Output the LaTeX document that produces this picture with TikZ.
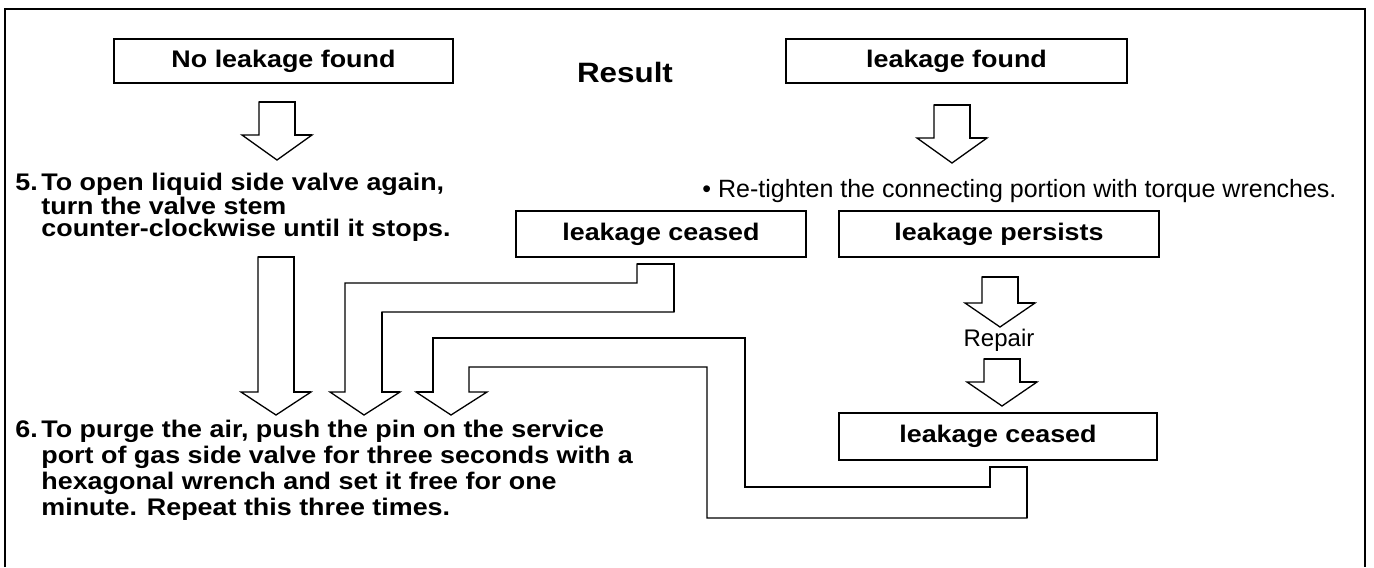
\documentclass[tikz,border=0pt]{standalone}
\usepackage{fontspec}
\setmainfont{Liberation Sans}
\newfontfamily\widefont{Liberation Sans}[FakeStretch=1.12]
\usepackage{xcolor}
\definecolor{inkblack}{RGB}{0,0,0}
\newcommand{\stepno}[1]{\makebox[13pt][l]{#1}}

\begin{document}
\begin{tikzpicture}[x=0.5pt,y=-0.5pt,
    resultbox/.style={draw=inkblack,line width=1pt,inner sep=0pt,minimum height=22pt,
      font=\widefont\bfseries\fontsize{12}{14}\selectfont},
    blockarrow/.style={draw=inkblack,fill=white,line width=0.65pt,line join=miter},
    heavyedge/.style={draw=inkblack,line width=1.4pt,line join=miter}]
        \useasboundingbox (0,0) rectangle (1374,567);
        \draw[line width=0.7pt] (5,567) -- (5,9) -- (1365,9) -- (1365,567);

        \node[resultbox,minimum width=169.5pt] (nofound) at (283.5,61) {No leakage found};
        \node[resultbox,minimum width=170.5pt] (found) at (956.5,61) {leakage found};
        \node[font=\widefont\bfseries\fontsize{14}{16}\selectfont] (result) at (625,72) {Result};
        \node[resultbox,minimum width=145pt,minimum height=23pt] (ceasedleft) at (661,234) {leakage ceased};
        \node[resultbox,minimum width=160pt,minimum height=23pt] (persists) at (999,234) {leakage persists};
        \node[resultbox,minimum width=159pt,minimum height=23.5pt] (ceasedright) at (998,436.5) {leakage ceased};

        \node[anchor=base west,inner sep=0pt,font=\fontsize{12.5}{15}\selectfont]
          (retighten) at (702,197) {• Re-tighten the connecting portion with torque wrenches.};
        \node[inner sep=0pt,font=\fontsize{12}{14}\selectfont] (repair) at (999,340) {Repair};

        \node[anchor=north west,inner sep=0pt,align=left,
              font=\widefont\bfseries\fontsize{12}{11}\selectfont]
          (stepfive) at (15,172.5)
          {\stepno{5.}To open liquid side valve again,\\
           \stepno{}turn the valve stem\\
           \stepno{}counter-clockwise until it stops.};
        \node[anchor=north west,inner sep=0pt,align=left,
              font=\widefont\bfseries\fontsize{12}{13}\selectfont]
          (stepsix) at (15,419.5)
          {\stepno{6.}To purge the air, push the pin on the service\\
           \stepno{}port of gas side valve for three seconds with a\\
           \stepno{}hexagonal wrench and set it free for one\\
           \stepno{}minute. Repeat this three times.};

        \foreach \cx/\ytop/\ysh/\ytip in {277/102/135/160,952/105/138/163,1000/277/303/327,
                                          1002/359/382/406,276/257/392/415}{
          \draw[blockarrow] (\cx-18,\ytop) -- (\cx-18,\ysh) -- (\cx-35,\ysh) -- (\cx,\ytip)
                -- (\cx+35,\ysh) -- (\cx+18,\ysh) -- (\cx+18,\ytop) -- cycle;
          \draw[heavyedge] (\cx-18,\ytop) -- (\cx+18,\ytop) -- (\cx+18,\ysh) -- (\cx+35,\ysh);
        }

        \draw[blockarrow] (345,392) -- (345,283) -- (637,283) -- (637,264) -- (674,264)
              -- (674,312) -- (382,312) -- (382,392) -- (400,392) -- (364,415) -- (330,392) -- cycle;
        \draw[heavyedge] (637,264) -- (674,264) -- (674,312);
        \draw[heavyedge] (382,312) -- (382,392) -- (400,392);

        \draw[blockarrow] (433,392) -- (433,338) -- (745,338) -- (745,487) -- (990,487)
              -- (990,467) -- (1027,467) -- (1027,518) -- (707,518) -- (707,367) -- (469,367)
              -- (469,392) -- (487,392) -- (451,415) -- (416,392) -- cycle;
        \draw[heavyedge] (416,392) -- (433,392) -- (433,338) -- (745,338) -- (745,487)
              -- (990,487) -- (990,467) -- (1027,467) -- (1027,518);
      \end{tikzpicture}
\end{document}
